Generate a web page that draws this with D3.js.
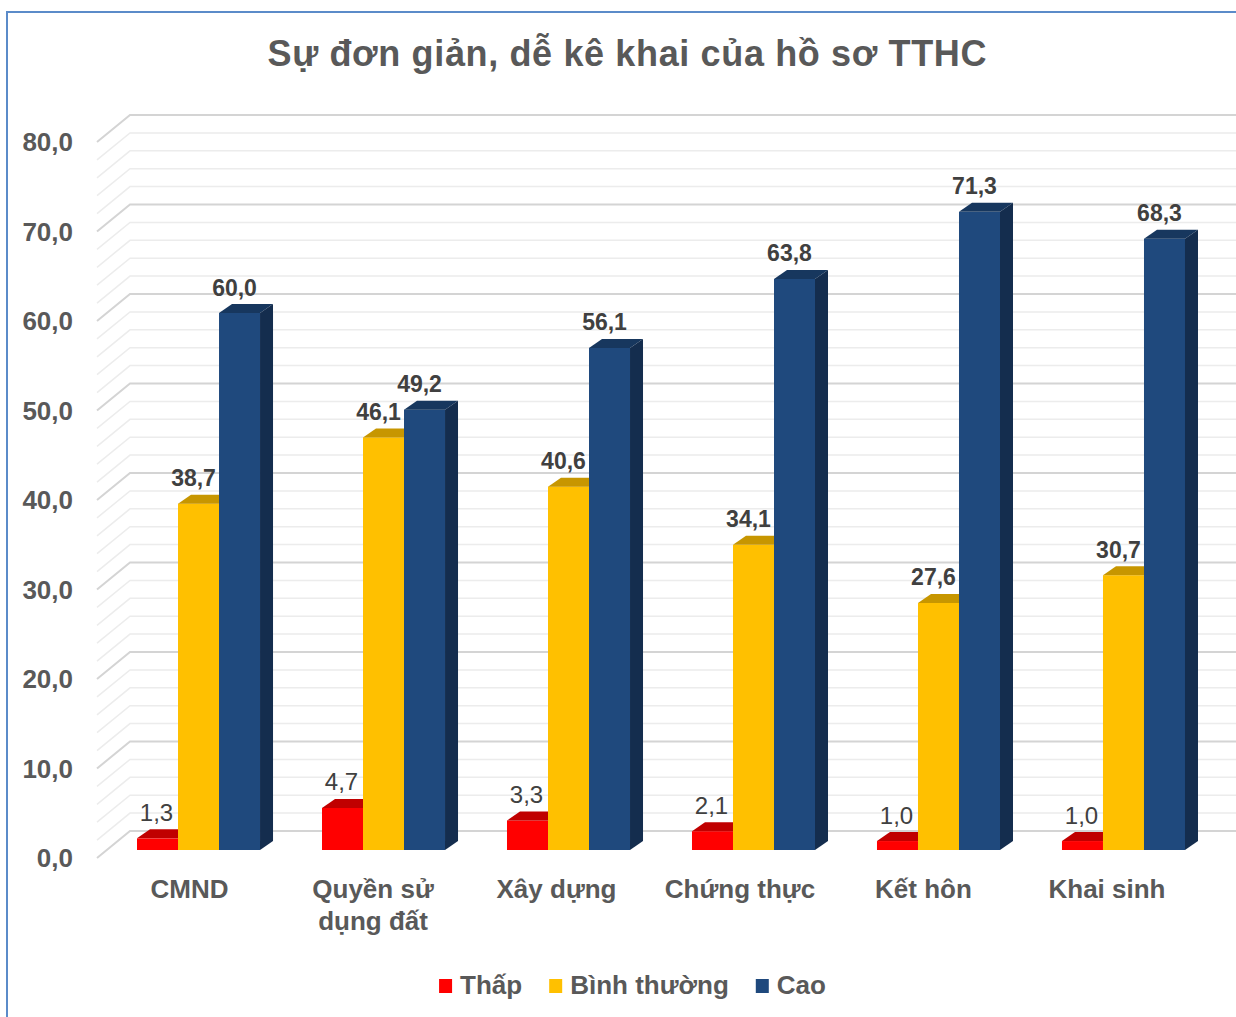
<!DOCTYPE html>
<html>
<head>
<meta charset="utf-8">
<script src="https://cdn.jsdelivr.net/npm/d3@7"></script>
<style>
  body { margin: 0; background: #fff; }
  svg text { font-family: "Liberation Sans", Arial, sans-serif; }
</style>
</head>
<body>
<svg id="chart"></svg>
<script>
// data
const categories = ["CMND", "Quyền sử dụng đất", "Xây dựng", "Chứng thực", "Kết hôn", "Khai sinh"];
const categoryLines = [["CMND"], ["Quyền sử", "dụng đất"], ["Xây dựng"], ["Chứng thực"], ["Kết hôn"], ["Khai sinh"]];
const seriesNames = ["Thấp", "Bình thường", "Cao"];
const thap = [1.3, 4.7, 3.3, 2.1, 1.0, 1.0];
const binhThuong = [38.7, 46.1, 40.6, 34.1, 27.6, 30.7];
const cao = [60.0, 49.2, 56.1, 63.8, 71.3, 68.3];
const yTicks = [0, 10, 20, 30, 40, 50, 60, 70, 80];

const seriesValues = [thap, binhThuong, cao];
const faceColors = [
  { front: "#ff0000", top: "#c00000", side: "#a00000" },
  { front: "#ffc000", top: "#c79600", side: "#a67c00" },
  { front: "#1f497d", top: "#17375e", side: "#142d4e" }
];

const W = 1236, H = 1017;
const svg = d3.select("#chart").attr("width", W).attr("height", H);

// frame
svg.append("path")
  .attr("d", `M7,${H + 5}V12H${W + 5}`)
  .attr("fill", "none").attr("stroke", "#5b8bc9").attr("stroke-width", 2);

// title
svg.append("text")
  .attr("x", 627).attr("y", 66)
  .attr("text-anchor", "middle")
  .attr("font-size", 36).attr("font-weight", "bold").attr("fill", "#595959")
  .attr("textLength", 719).attr("lengthAdjust", "spacing")
  .text("Sự đơn giản, dễ kê khai của hồ sơ TTHC");

// scales
const y = d3.scaleLinear().domain([0, 80]).range([858, 142]);
const x = d3.scaleBand().domain(categories).range([106, 1216])
  .paddingInner(0.335).paddingOuter(0.1676);
const xs = d3.scaleBand().domain(seriesNames).range([0, x.bandwidth()]);

const wallDx = 33, wallDy = -27;   // depth of the back wall
const barDx = 13, barDy = -9;      // depth of each bar
const barShift = -8;               // bars sit a bit back from the front edge

// gridlines (every 2, major every 10)
const grid = svg.append("g");
d3.range(0, 81, 2).forEach(v => {
  const major = v % 10 === 0;
  grid.append("path")
    .attr("d", `M97,${y(v)}L${97 + wallDx},${y(v) + wallDy}H${W + 5}`)
    .attr("fill", "none")
    .attr("stroke", major ? "#d4d4d4" : "#ececec")
    .attr("stroke-width", major ? 2 : 1.5);
});

// value axis labels
const fmt = v => d3.format(".1f")(v).replace(".", ",");
svg.append("g").selectAll("text").data(yTicks).join("text")
  .attr("x", 73).attr("y", d => y(d))
  .attr("dy", "0.36em")
  .attr("text-anchor", "end")
  .attr("font-size", 26).attr("font-weight", "bold").attr("fill", "#595959")
  .text(fmt);

// bars, series by series so later bars cover earlier labels
seriesNames.forEach((s, si) => {
  const g = svg.append("g");
  const col = faceColors[si];
  categories.forEach((c, ci) => {
    const v = seriesValues[si][ci];
    const x0 = x(c) + xs(s), x1 = x0 + xs.bandwidth();
    const yt = y(v) + barShift, yb = y(0) + barShift;
    g.append("rect")
      .attr("x", x0).attr("y", yt).attr("width", x1 - x0).attr("height", yb - yt)
      .attr("fill", col.front);
    g.append("path")
      .attr("d", `M${x0},${yt}L${x1},${yt}L${x1 + barDx},${yt + barDy}L${x0 + barDx},${yt + barDy}Z`)
      .attr("fill", col.top);
    g.append("path")
      .attr("d", `M${x1},${yt}L${x1 + barDx},${yt + barDy}L${x1 + barDx},${yb + barDy}L${x1},${yb}Z`)
      .attr("fill", col.side);
  });
  categories.forEach((c, ci) => {
    const v = seriesValues[si][ci];
    const cx = x(c) + xs(s) + xs.bandwidth() / 2;
    g.append("text")
      .attr("x", si === 0 ? cx - 1 : cx - 5)
      .attr("y", y(v) - 25.5)
      .attr("text-anchor", "middle")
      .attr("font-size", si === 0 ? 24 : 23)
      .attr("font-weight", si === 0 ? "normal" : "bold")
      .attr("fill", "#404040")
      .text(fmt(v));
  });
});

// category labels
const catG = svg.append("g");
categories.forEach((c, ci) => {
  const cx = x(c) + x.bandwidth() / 2 - 9 - ci * 1.5;
  const t = catG.append("text")
    .attr("x", cx)
    .attr("y", 898)
    .attr("text-anchor", "middle")
    .attr("font-size", 26).attr("font-weight", "bold").attr("fill", "#595959");
  categoryLines[ci].forEach((line, li) => {
    t.append("tspan")
      .attr("x", cx)
      .attr("dy", li === 0 ? 0 : 32)
      .text(line);
  });
});

// legend
const legend = svg.append("g");
let lx = 0;
seriesNames.forEach((s, si) => {
  const item = legend.append("g").attr("transform", `translate(${lx},0)`);
  item.append("rect").attr("x", 0).attr("y", -15).attr("width", 13).attr("height", 14)
    .attr("fill", faceColors[si].front);
  const t = item.append("text").attr("x", 21).attr("y", 0)
    .attr("font-size", 26).attr("font-weight", "bold").attr("fill", "#595959")
    .text(s);
  lx += 21 + t.node().getComputedTextLength() + 27;
});
lx -= 27;
legend.attr("transform", `translate(${(440 + 825) / 2 - lx / 2},994)`);
</script>
</body>
</html>
